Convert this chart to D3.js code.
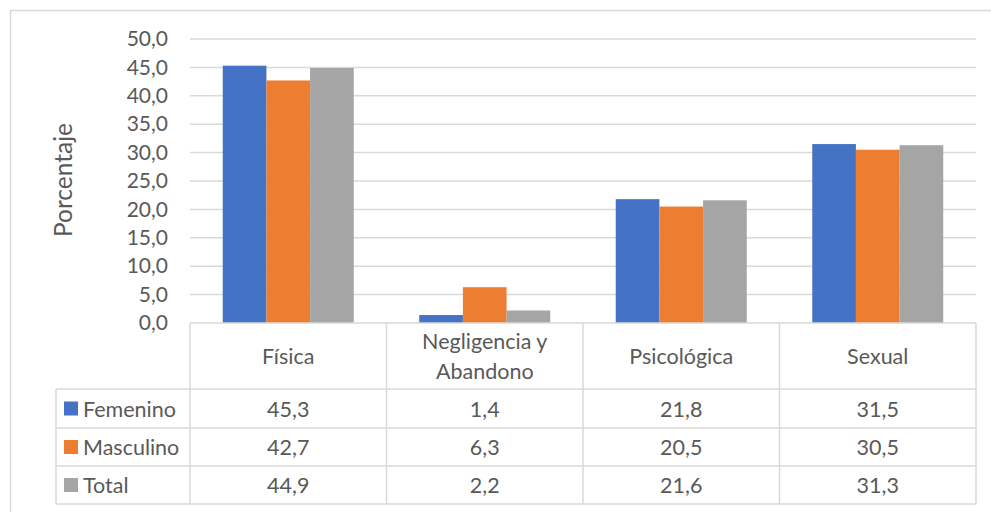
<!DOCTYPE html>
<html>
<head>
<meta charset="utf-8">
<script src="https://cdn.jsdelivr.net/npm/d3@7/dist/d3.min.js"></script>
<style>
  html, body { margin: 0; padding: 0; background: #fff; }
  svg { display: block; }
  text { font-family: Lato, "Open Sans", sans-serif; fill: #595959; }
</style>
</head>
<body>
<svg id="chart" width="991" height="512"></svg>
<script>
// Data
const categories = ["Física", "Negligencia y\nAbandono", "Psicológica", "Sexual"];
const seriesNames = ["Femenino", "Masculino", "Total"];
const femenino = [45.3, 1.4, 21.8, 31.5];
const masculino = [42.7, 6.3, 20.5, 30.5];
const total = [44.9, 2.2, 21.6, 31.3];
const yTicks = [0, 5, 10, 15, 20, 25, 30, 35, 40, 45, 50];
const colors = ["#4472C4", "#ED7D31", "#A5A5A5"];

const series = [femenino, masculino, total];
const fmt = v => v.toFixed(1).replace(".", ",");

const svg = d3.select("#chart");
const grid = "#d9d9d9";
const labelSize = 21.5;

// Layout
const plot = { left: 190, right: 976, top: 39, bottom: 323 };
const rows = [323, 389, 428, 466, 504];
const legendLeft = 56;

// Outer frame
svg.append("rect")
  .attr("x", 10.5).attr("y", 10.5)
  .attr("width", 1000).attr("height", 600)
  .attr("fill", "none").attr("stroke", grid).attr("stroke-width", 1.5);

const x = d3.scaleBand().domain(d3.range(categories.length))
  .range([plot.left, plot.right]).paddingInner(0).paddingOuter(0);
const y = d3.scaleLinear().domain([0, 50]).range([plot.bottom, plot.top]);

// Gridlines
svg.append("g").selectAll("line").data(yTicks.filter(t => t > 0)).join("line")
  .attr("x1", plot.left).attr("x2", plot.right)
  .attr("y1", d => y(d)).attr("y2", d => y(d))
  .attr("stroke", grid).attr("stroke-width", 1.5);

// Y axis labels
const yAxis = d3.axisLeft(y).tickValues(yTicks).tickFormat(fmt).tickSize(0).tickPadding(0);
const ya = svg.append("g").attr("transform", "translate(168,0)").call(yAxis);
ya.select(".domain").remove();
ya.selectAll("text")
  .attr("font-family", "Lato, 'Open Sans', sans-serif")
  .attr("font-size", 21).attr("fill", "#595959");

// Axis title
svg.append("text")
  .attr("transform", "translate(62,180) rotate(-90)")
  .attr("text-anchor", "middle")
  .attr("dominant-baseline", "central")
  .attr("font-size", 24.5)
  .text("Porcentaje");

// Bars
const xs = d3.scaleBand().domain(d3.range(series.length))
  .range([0, x.bandwidth()]).paddingInner(0).paddingOuter(0.75);
series.forEach((vals, si) => {
  svg.append("g").selectAll("rect").data(vals).join("rect")
    .attr("x", (d, i) => x(i) + xs(si))
    .attr("width", xs.bandwidth())
    .attr("y", d => y(d))
    .attr("height", d => y(0) - y(d))
    .attr("fill", colors[si]);
});

// Data table
const tg = svg.append("g").attr("stroke", grid).attr("stroke-width", 1.5).attr("fill", "none");
// horizontal lines
tg.append("line").attr("x1", plot.left).attr("x2", plot.right).attr("y1", rows[0]).attr("y2", rows[0]);
rows.slice(1).forEach(r => {
  tg.append("line").attr("x1", legendLeft).attr("x2", plot.right).attr("y1", r).attr("y2", r);
});
// vertical lines
d3.range(categories.length + 1).forEach(i => {
  const xx = i < categories.length ? x(i) : plot.right;
  tg.append("line").attr("x1", xx).attr("x2", xx).attr("y1", rows[0]).attr("y2", rows[4]);
});
tg.append("line").attr("x1", legendLeft).attr("x2", legendLeft).attr("y1", rows[1]).attr("y2", rows[4]);

// Category header labels
categories.forEach((c, i) => {
  const lines = c.split("\n");
  const cx = x(i) + x.bandwidth() / 2;
  const cy = (rows[0] + rows[1]) / 2;
  const lh = 30;
  lines.forEach((ln, k) => {
    svg.append("text")
      .attr("x", cx)
      .attr("y", cy + (k - (lines.length - 1) / 2) * lh)
      .attr("text-anchor", "middle")
      .attr("dominant-baseline", "central")
      .attr("font-size", labelSize)
      .text(ln);
  });
});

// Series rows: legend key, name and values
series.forEach((vals, si) => {
  const cy = (rows[si + 1] + rows[si + 2]) / 2;
  svg.append("rect")
    .attr("x", 64).attr("y", cy - 7)
    .attr("width", 14).attr("height", 14)
    .attr("fill", colors[si]);
  svg.append("text")
    .attr("x", 83).attr("y", cy)
    .attr("dominant-baseline", "central")
    .attr("font-size", labelSize)
    .text(seriesNames[si]);
  vals.forEach((v, i) => {
    svg.append("text")
      .attr("x", x(i) + x.bandwidth() / 2).attr("y", cy)
      .attr("text-anchor", "middle")
      .attr("dominant-baseline", "central")
      .attr("font-size", labelSize)
      .text(fmt(v));
  });
});
</script>
</body>
</html>
